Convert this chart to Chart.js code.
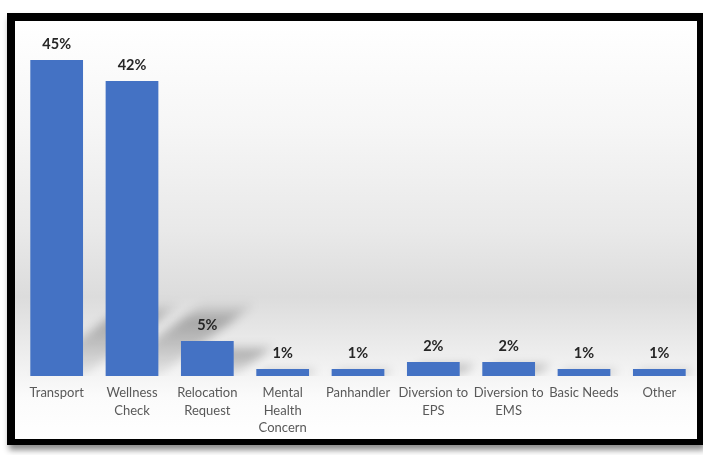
<!DOCTYPE html>
<html>
<head>
<meta charset="utf-8">
<script src="https://cdn.jsdelivr.net/npm/chart.js@4.4.1/dist/chart.umd.min.js"></script>
<style>
  html,body{margin:0;padding:0;background:#fff;width:703px;height:455px;overflow:hidden;}
  .frame{position:absolute;left:7px;top:13px;width:682px;height:418px;
    border-left:8px solid #000;border-top:8px solid #000;border-right:6px solid #000;border-bottom:6px solid #000;
    box-shadow:2px 5px 6px rgba(0,0,0,.45);
    background:linear-gradient(to bottom,#ffffff 0%,#f6f6f6 25%,#e9e9e9 50%,#dcdcdc 66%,#eeeeee 80%,#fbfbfb 90%,#ffffff 100%);}
  #chart{position:absolute;left:0;top:0;}
</style>
</head>
<body>
<div class="frame"><canvas id="chart" width="682" height="418"></canvas></div>
<script>
const categories = ['Transport',['Wellness','Check'],['Relocation','Request'],['Mental','Health','Concern'],'Panhandler',['Diversion to','EPS'],['Diversion to','EMS'],'Basic Needs','Other'];
const percents = [45,42,5,1,1,2,2,1,1];
const yMax = 45;

// soft perspective shadow cast up and to the right from each bar
const barShadows = {
  id:'barShadows',
  beforeDatasetsDraw(chart){
    const ctx = chart.ctx, area = chart.chartArea;
    ctx.save();
    ctx.beginPath(); ctx.rect(area.left, area.top, area.right-area.left, area.bottom-area.top); ctx.clip();
    ctx.filter = 'blur(5px)';
    chart.getDatasetMeta(0).data.forEach(bar=>{
      const h = bar.base - bar.y;
      const L = Math.min(h*0.9, 74);
      if(L < 4) return;
      const l = bar.x - bar.width/2, r = bar.x + bar.width/2, b = bar.base;
      const g = ctx.createLinearGradient(0,b,0,b-L);
      g.addColorStop(0,'rgba(0,0,0,0.05)');
      g.addColorStop(0.75,'rgba(0,0,0,0.27)');
      g.addColorStop(1,'rgba(0,0,0,0)');
      ctx.fillStyle = g;
      ctx.beginPath();
      ctx.moveTo(l,b); ctx.lineTo(r,b); ctx.lineTo(r+1.35*L,b-L); ctx.lineTo(l+1.35*L,b-L); ctx.closePath();
      ctx.fill();
    });
    ctx.restore();
  }
};

// percent labels above the bars
const valueLabels = {
  id:'valueLabels',
  afterDatasetsDraw(chart){
    const ctx = chart.ctx;
    ctx.save();
    ctx.font = 'bold 14.5px Lato';
    ctx.fillStyle = '#262626';
    ctx.textAlign = 'center';
    ctx.textBaseline = 'bottom';
    chart.getDatasetMeta(0).data.forEach((bar,i)=>{
      ctx.fillText(percents[i]+'%', bar.x, bar.y-8);
    });
    ctx.restore();
  }
};

new Chart(document.getElementById('chart'),{
  type:'bar',
  data:{labels:categories,datasets:[{data:percents,backgroundColor:'#4472C4',barPercentage:0.7,categoryPercentage:1}]},
  options:{
    responsive:false,animation:false,
    layout:{padding:{top:39,left:4,right:0,bottom:0}},
    plugins:{legend:{display:false},tooltip:{enabled:false}},
    scales:{
      x:{grid:{display:false,drawTicks:false},border:{display:false},
        ticks:{color:'#595959',font:{family:'Lato',size:13,lineHeight:1.35},padding:8,maxRotation:0,autoSkip:false},
        afterFit(s){s.height=63;}},
      y:{display:false,min:0,max:yMax}
    }
  },
  plugins:[barShadows,valueLabels]
});
</script>
</body>
</html>
